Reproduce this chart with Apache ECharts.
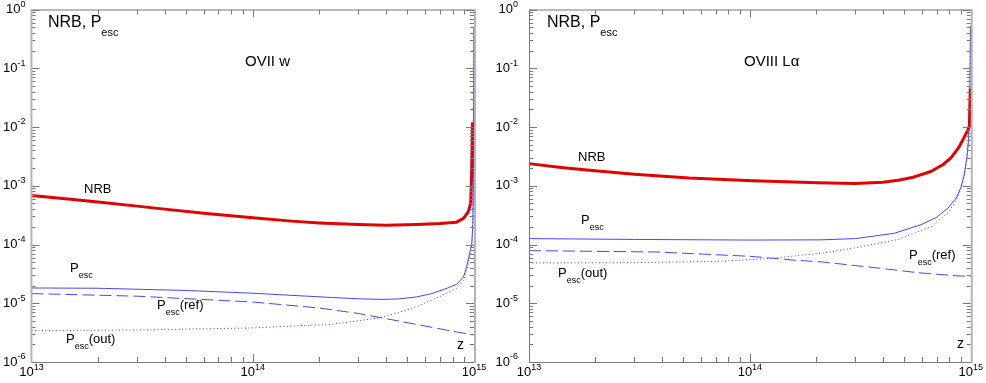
<!DOCTYPE html>
<html><head><meta charset="utf-8">
<script src="https://cdn.jsdelivr.net/npm/echarts@6/dist/echarts.min.js"></script>
<style>html,body{margin:0;padding:0;background:#fff}#c{width:986px;height:383px}</style>
</head><body><div id="c"></div>
<script>
// ---- axis ticks / labels ----
const xTickLabels = [1e13, 1e14, 1e15];
const yTickLabels = [1e-6, 1e-5, 1e-4, 1e-3, 1e-2, 1e-1, 1];
const xDecades = [13, 14];
const yDecades = [-6, -5, -4, -3, -2, -1];
const mantissas = [1, 2, 3, 4, 5, 6, 7, 8, 9];

// ---- OVII w panel ----
const owNrbX = [1e13, 1.5e13, 2e13, 3e13, 4e13, 6e13, 1e14, 1.5e14, 2e14, 3e14, 4e14, 5.5e14, 7e14, 8.35e14, 8.96e14, 9.42e14, 9.66e14, 9.75e14, 9.85e14];
const owNrbY = [6.8e-4, 5.9e-4, 5.3e-4, 4.5e-4, 4.0e-4, 3.4e-4, 2.85e-4, 2.5e-4, 2.33e-4, 2.18e-4, 2.12e-4, 2.18e-4, 2.27e-4, 2.4e-4, 2.78e-4, 3.6e-4, 5e-4, 1.5e-3, 1.2e-2];
const owPescX = [1e13, 2e13, 5e13, 1e14, 2.3e14, 3e14, 3.9e14, 4.6e14, 5.5e14, 6.4e14, 7.3e14, 8.35e14, 8.96e14, 9.27e14, 9.55e14, 9.77e14, 9.88e14, 9.95e14, 9.98e14, 9.99e14];
const owPescY = [1.82e-5, 1.8e-5, 1.65e-5, 1.48e-5, 1.25e-5, 1.19e-5, 1.16e-5, 1.19e-5, 1.28e-5, 1.45e-5, 1.71e-5, 2.1e-5, 2.8e-5, 4.2e-5, 7e-5, 1e-4, 2.2e-4, 3e-3, 0.1, 0.5];
const owRefX = [1e13, 3e13, 1e14, 2e14, 3e14, 4.3e14, 6e14, 8.5e14, 1e15];
const owRefY = [1.46e-5, 1.32e-5, 1.05e-5, 8.3e-6, 6.7e-6, 5.2e-6, 4.1e-6, 3.2e-6, 2.9e-6];
const owOutX = [1e13, 3e13, 1e14, 2.3e14, 3.7e14, 5.2e14, 7e14, 8.35e14, 8.96e14, 9.27e14, 9.55e14, 9.77e14, 9.88e14, 9.95e14, 9.98e14, 9.99e14];
const owOutY = [3.43e-6, 3.5e-6, 3.8e-6, 4.4e-6, 5.6e-6, 8e-6, 1.3e-5, 1.8e-5, 2.4e-5, 3.6e-5, 6e-5, 1e-4, 2.2e-4, 3e-3, 0.1, 0.5];

// ---- OVIII Lα panel ----
const olNrbX = [1e13, 1.4e13, 1.88e13, 3e13, 5.3e13, 1.03e14, 2.04e14, 3e14, 4e14, 4.7e14, 5.5e14, 6.6e14, 7.5e14, 8.15e14, 8.8e14, 9.36e14, 9.7e14, 9.86e14, 9.95e14];
const olNrbY = [2.38e-3, 2.05e-3, 1.83e-3, 1.57e-3, 1.35e-3, 1.22e-3, 1.12e-3, 1.09e-3, 1.15e-3, 1.24e-3, 1.4e-3, 1.75e-3, 2.3e-3, 3.0e-3, 4.4e-3, 6.8e-3, 8.8e-3, 1.05e-2, 4.5e-2];
const olPescX = [1e13, 3e13, 1e14, 2.1e14, 3e14, 4.5e14, 6e14, 7e14, 7.9e14, 8.6e14, 9.04e14, 9.36e14, 9.6e14, 9.77e14, 9.9e14, 9.97e14];
const olPescY = [1.26e-4, 1.22e-4, 1.19e-4, 1.2e-4, 1.26e-4, 1.55e-4, 2.2e-4, 2.9e-4, 4.2e-4, 6.2e-4, 9.5e-4, 1.6e-3, 3e-3, 5.9e-3, 3e-2, 0.53];
const olRefX = [1e13, 3.76e13, 1e14, 1.6e14, 2.12e14, 4.23e14, 5.8e14, 8.5e14, 1e15];
const olRefY = [7.87e-5, 7.46e-5, 6.3e-5, 5.4e-5, 5.05e-5, 3.8e-5, 3.3e-5, 2.95e-5, 2.85e-5];
const olOutX = [1e13, 3e13, 7.5e13, 1.26e14, 1.66e14, 2.12e14, 3e14, 4.7e14, 6.6e14, 7.9e14, 8.6e14, 9.04e14, 9.36e14, 9.6e14, 9.77e14, 9.9e14, 9.97e14];
const olOutY = [4.85e-5, 4.9e-5, 5.2e-5, 5.8e-5, 6.5e-5, 7.1e-5, 8.8e-5, 1.22e-4, 2e-4, 3.5e-4, 5.6e-4, 9e-4, 1.55e-3, 2.9e-3, 5.8e-3, 3e-2, 0.5];

const FONT = 'Liberation Sans';
const zip = (xs, ys) => xs.map((x, i) => [x, ys[i]]);

function expLabel(v) {
  const e = Math.round(Math.log10(v));
  return '{b|10}{s|' + e + '}';
}
const labelRich = {
  b: { fontSize: 13, fontFamily: FONT, color: '#000' },
  s: { fontSize: 9, fontFamily: FONT, color: '#000', padding: [0, 0, 10, 0] }
};

const xTickData = [];
xDecades.forEach(e => mantissas.forEach(m => xTickData.push([m * Math.pow(10, e), 1e-3, m === 1 ? 1 : 0, 0])));
xTickData.push([xTickLabels[2], 1e-3, 1, 0]);
const yTickData = [];
yDecades.forEach(e => mantissas.forEach(m => yTickData.push([1e14, m * Math.pow(10, e), m === 1 ? 1 : 0, 1])));
yTickData.push([1e14, yTickLabels[6], 1, 1]);

function tickSeries(gi) {
  return {
    type: 'custom', xAxisIndex: gi, yAxisIndex: gi, silent: true, clip: false, z: 5,
    data: xTickData.concat(yTickData),
    renderItem(params, api) {
      const cs = params.coordSys;
      const major = api.value(2), kind = api.value(3);
      const st = { stroke: '#777', lineWidth: 1 };
      if (kind === 0) {
        const x = Math.round(api.coord([api.value(0), 1e-3])[0]) + 0.5;
        const len = major ? 8 : 5;
        const b = cs.y + cs.height, t = cs.y;
        return { type: 'group', children: [
          { type: 'line', shape: { x1: x, y1: b, x2: x, y2: b - len }, style: st },
          { type: 'line', shape: { x1: x, y1: t, x2: x, y2: t + len }, style: st }
        ] };
      }
      const y = Math.round(api.coord([1e14, api.value(1)])[1]) + 0.5;
      const len = major ? 8 : 4;
      const l = cs.x, r = cs.x + cs.width;
      return { type: 'group', children: [
        { type: 'line', shape: { x1: l, y1: y, x2: l + len, y2: y }, style: st },
        { type: 'line', shape: { x1: r, y1: y, x2: r - len, y2: y }, style: st }
      ] };
    }
  };
}
function frameSeries(gi, leftLight) {
  return {
    type: 'custom', xAxisIndex: gi, yAxisIndex: gi, silent: true, clip: false, z: 6,
    data: [[1e14, 1e-3]],
    renderItem(params, api) {
      const cs = params.coordSys;
      const l = cs.x, r = cs.x + cs.width, t = cs.y, b = cs.y + cs.height;
      const dark = { stroke: '#777', lineWidth: 1 };
      const light = { stroke: '#b4b4b4', lineWidth: 2 };
      return { type: 'group', children: [
        { type: 'line', shape: { x1: l, y1: t + 0.5, x2: r, y2: t + 0.5 }, style: dark },
        { type: 'line', shape: { x1: l, y1: b + 0.5, x2: r, y2: b + 0.5 }, style: dark },
        { type: 'line', shape: { x1: l + (leftLight ? 0 : 0.5), y1: t, x2: l + (leftLight ? 0 : 0.5), y2: b }, style: leftLight ? light : dark },
        { type: 'line', shape: { x1: r + 1, y1: t, x2: r + 1, y2: b + 1 }, style: light }
      ] };
    }
  };
}

function lineSeries(gi, name, xs, ys, color, width, type) {
  return {
    type: 'line', name, xAxisIndex: gi, yAxisIndex: gi, data: zip(xs, ys),
    symbol: 'none', smooth: false, clip: true,
    lineStyle: { color, width, type, join: 'round' }, z: width > 2 ? 4 : 3
  };
}

const grids = [
  { left: 31, top: 9, width: 443, height: 353 },
  { left: 529, top: 9, width: 444, height: 353 }
];
function xAxis(gi) {
  return {
    type: 'log', logBase: 10, gridIndex: gi, min: xTickLabels[0], max: xTickLabels[2],
    splitLine: { show: false }, axisLine: { show: false }, axisTick: { show: false },
    minorTick: { show: false },
    axisLabel: { formatter: expLabel, rich: labelRich, margin: 1, showMinLabel: true, showMaxLabel: true, hideOverlap: false }
  };
}
function yAxis(gi, margin) {
  return {
    type: 'log', logBase: 10, gridIndex: gi, min: yTickLabels[0], max: yTickLabels[6], splitNumber: 6,
    splitLine: { show: false }, axisLine: { show: false }, axisTick: { show: false },
    axisLabel: { formatter: expLabel, rich: labelRich, margin, showMinLabel: true, showMaxLabel: true, hideOverlap: false }
  };
}

const subRich = (main, sub, pad) => ({
  m: { fontSize: main, fontFamily: FONT, fill: '#000' },
  s: { fontSize: sub, fontFamily: FONT, fill: '#000', padding: [pad, 0, 0, 0] }
});
function txt(x, y, text, main, sub, pad) {
  return { type: 'text', x, y, z: 20, style: { text, rich: subRich(main, sub || 9, pad || 14), verticalAlign: 'middle', align: 'left', fill: '#000', fontSize: main, fontFamily: FONT } };
}

const graphics = [
  txt(48, 23, '{m|NRB, P}{s|esc}', 16, 11, 20),
  txt(245, 62, '{m|OVII w}', 15),
  txt(84, 189, '{m|NRB}', 13),
  txt(70, 268, '{m|P}{s|esc}', 13, 9, 16),
  txt(157, 305, '{m|P}{s|esc}{m|(ref)}', 13, 9, 16),
  txt(66, 339, '{m|P}{s|esc}{m|(out)}', 13, 9, 16),
  txt(457, 345, '{m|z}', 14),
  txt(547, 23, '{m|NRB, P}{s|esc}', 16, 11, 20),
  txt(744, 62, '{m|OVIII Lα}', 15),
  txt(578, 157, '{m|NRB}', 13),
  txt(581, 220, '{m|P}{s|esc}', 13, 9, 16),
  txt(909, 255, '{m|P}{s|esc}{m|(ref)}', 13, 9, 16),
  txt(558, 273, '{m|P}{s|esc}{m|(out)}', 13, 9, 16),
  txt(957, 344, '{m|z}', 14)
];

const RED = '#e20000', BLUE = '#4646ff';
const chart = echarts.init(document.getElementById('c'), null, { renderer: 'canvas' });
chart.setOption({
  animation: false,
  backgroundColor: '#fff',
  grid: grids,
  xAxis: [xAxis(0), xAxis(1)],
  yAxis: [yAxis(0, 6), yAxis(1, 11)],
  graphic: graphics,
  series: [
    lineSeries(0, 'Pesc(ref)', owRefX, owRefY, BLUE, 1, [12, 5]),
    lineSeries(0, 'Pesc(out)', owOutX, owOutY, BLUE, 1, [1, 2.5]),
    lineSeries(0, 'Pesc', owPescX, owPescY, BLUE, 1, 'solid'),
    lineSeries(0, 'NRB', owNrbX, owNrbY, RED, 3, 'solid'),
    lineSeries(1, 'Pesc(ref)', olRefX, olRefY, BLUE, 1, [12, 5]),
    lineSeries(1, 'Pesc(out)', olOutX, olOutY, BLUE, 1, [1, 2.5]),
    lineSeries(1, 'Pesc', olPescX, olPescY, BLUE, 1, 'solid'),
    lineSeries(1, 'NRB', olNrbX, olNrbY, RED, 3, 'solid'),
    tickSeries(0), tickSeries(1), frameSeries(0, true), frameSeries(1, false)
  ]
});
</script></body></html>
